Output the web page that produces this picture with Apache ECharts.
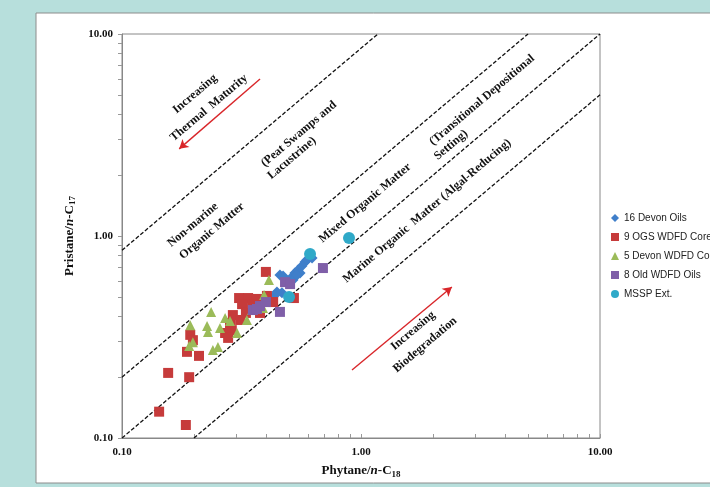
<!DOCTYPE html>
<html><head><meta charset="utf-8">
<script src="https://cdn.jsdelivr.net/npm/echarts@6/dist/echarts.min.js"></script>
<style>html,body{margin:0;padding:0;background:#b7dfdc;}#c{width:710px;height:487px;}</style>
</head><body><div id="c"></div>
<script>
// ---- data (Phytane/n-C18, Pristane/n-C17) ----
const devonOils = [[0.445,0.528],[0.437,0.511],[0.458,0.641],[0.472,0.634],[0.495,0.591],[0.514,0.627],[0.529,0.656],[0.545,0.679],[0.556,0.656],[0.566,0.710],[0.583,0.743],[0.594,0.760],[0.519,0.605],[0.467,0.523],[0.540,0.641],[0.624,0.778]];
const ogsCores = [[0.400,0.664],[0.309,0.493],[0.337,0.493],[0.367,0.488],[0.404,0.505],[0.429,0.471],[0.524,0.493],[0.318,0.460],[0.350,0.460],[0.291,0.406],[0.312,0.384],[0.330,0.416],[0.283,0.371],[0.288,0.342],[0.270,0.331],[0.278,0.313],[0.193,0.324],[0.198,0.305],[0.187,0.267],[0.210,0.255],[0.156,0.210],[0.191,0.200],[0.143,0.135],[0.185,0.116],[0.378,0.416]];
const devonCores = [[0.412,0.605],[0.393,0.511],[0.236,0.421],[0.193,0.362],[0.227,0.358],[0.229,0.335],[0.257,0.350],[0.270,0.393],[0.283,0.379],[0.303,0.331],[0.198,0.298],[0.191,0.285],[0.240,0.273],[0.252,0.282],[0.333,0.384],[0.350,0.430],[0.389,0.440]];
const oldOils = [[0.481,0.591],[0.505,0.578],[0.693,0.694],[0.458,0.421],[0.353,0.430],[0.378,0.450],[0.400,0.471],[0.367,0.435]];
const msspExt = [[0.891,0.977],[0.612,0.815],[0.500,0.499]];
const seriesNames = ['16 Devon Oils','9 OGS WDFD Cores','5 Devon WDFD Cores','8 Old WDFD Oils','MSSP Ext.'];
// boundary lines: Pr/C17 = k * Ph/C18
const lineRatios = [8.5, 2, 1, 0.5];
const axisMin = 0.1, axisMax = 10;
const tickLabels = [0.1, 1, 10];
const minorTicks = [0.1,0.2,0.3,0.4,0.5,0.6,0.7,0.8,0.9,1,2,3,4,5,6,7,8,9,10];
// annotation lines [x, y, text] (centre of each line, data coords)
const notes = [
  [0.202, 5.05, 'Increasing'],
  [0.231, 4.31, 'Thermal  Maturity'],
  [0.550, 3.20, '(Peat Swamps and'],
  [0.514, 2.43, 'Lacustrine)'],
  [0.198, 1.134, 'Non-marine'],
  [0.238, 1.059, 'Organic Matter'],
  [1.04, 1.455, 'Mixed Organic Matter'],
  [3.21, 4.71, '(Transitional Depositional'],
  [2.38, 2.82, 'Setting)'],
  [1.89, 1.33, 'Marine Organic  Matter (Algal-Reducing)'],
  [1.65, 0.339, 'Increasing'],
  [1.853, 0.289, 'Biodegradation']
];
const arrows = [[[0.378,5.99],[0.1735,2.70]], [[0.917,0.217],[2.40,0.559]]];

const colors = ['#3f7fca','#c63b3b','#9bbb59','#7f5fa8','#2fa9c8'];
const symbols = ['diamond','rect','triangle','rect','circle'];
const sizes = [11,10,10,10,12];
const allData = [devonOils, ogsCores, devonCores, oldOils, msspExt];

const serif = 'Liberation Serif';
const chart = echarts.init(document.getElementById('c'));

const lineSeries = lineRatios.map(k => {
  const x1 = Math.max(axisMin, axisMin / k), x2 = Math.min(axisMax, axisMax / k);
  return {type:'line', data:[[x1,k*x1],[x2,k*x2]], showSymbol:false, silent:true,
    lineStyle:{color:'#111', width:1.3, type:[4,2]}, z:1};
});
const scatterSeries = allData.map((d,i) => ({
  name: seriesNames[i], type:'scatter', data:d, symbol:symbols[i], symbolSize:sizes[i],
  itemStyle:{color:colors[i], opacity:1}, z:3+i
}));
const arrowSeries = {type:'line', data:[], silent:true, markLine:{silent:true, symbol:['none','arrow'], symbolSize:[8,9], label:{show:false},
  lineStyle:{color:'#d9262a', width:1.4, type:'solid'},
  data: arrows.map(a => [{coord:a[0]},{coord:a[1]}])}};

const panel = {type:'rect', z:-10, shape:{x:36, y:13, width:690, height:470}, style:{fill:'#fff', stroke:'#8c8c8c', lineWidth:1}};
const nameRich = {i:{fontFamily:serif, fontWeight:'bold', fontStyle:'italic', fontSize:13, color:'#111'},
                  s:{fontFamily:serif, fontWeight:'bold', fontSize:9, color:'#111', padding:[7,0,0,0]}};

chart.setOption({
  backgroundColor:'#b7dfdc',
  animation:false,
  graphic:[panel],
  grid:{left:122, right:110, top:34, bottom:49, show:true, borderColor:'#888', borderWidth:1, backgroundColor:'transparent'},
  legend:{orient:'vertical', left:606, top:207, itemWidth:8, itemHeight:8, itemGap:7,
    textStyle:{fontFamily:'Liberation Sans', fontSize:10, color:'#222', lineHeight:12},
    data: seriesNames},
  xAxis:{type:'log', logBase:10, min:axisMin, max:axisMax,
    name:'Phytane/{i|n}-C{s|18}', nameLocation:'middle', nameGap:25,
    nameTextStyle:{fontFamily:serif, fontWeight:'bold', fontSize:13, color:'#111', rich:nameRich},
    axisLine:{lineStyle:{color:'#888'}}, splitLine:{show:false},
    axisTick:{customValues:minorTicks, length:4, inside:true, lineStyle:{color:'#999'}},
    axisLabel:{customValues:tickLabels, formatter:v => Number(v).toFixed(2), fontFamily:serif, fontWeight:'bold', fontSize:11, color:'#111', margin:9}},
  yAxis:{type:'log', logBase:10, min:axisMin, max:axisMax,
    name:'Pristane/{i|n}-C{s|17}', nameLocation:'middle', nameGap:39, nameRotate:90,
    nameTextStyle:{fontFamily:serif, fontWeight:'bold', fontSize:13, color:'#111', rich:nameRich},
    axisLine:{lineStyle:{color:'#888'}}, splitLine:{show:false},
    axisTick:{customValues:minorTicks, length:4, lineStyle:{color:'#999'}},
    axisLabel:{customValues:tickLabels, formatter:v => Number(v).toFixed(2), fontFamily:serif, fontWeight:'bold', fontSize:11, color:'#111', margin:9}},
  series:[...lineSeries, arrowSeries, ...scatterSeries]
});

const ang = Math.atan2(chart.getHeight()-34-49, chart.getWidth()-122-110);
const noteGraphics = notes.map(n => {
  const p = chart.convertToPixel({gridIndex:0}, [n[0], n[1]]);
  return {type:'text', x:p[0], y:p[1], rotation:ang, z:50,
    style:{text:n[2], fill:'#111', font:'bold 12px "Liberation Serif"', textAlign:'center', textVerticalAlign:'middle'}};
});
chart.setOption({graphic:[panel, ...noteGraphics]});
</script></body></html>
